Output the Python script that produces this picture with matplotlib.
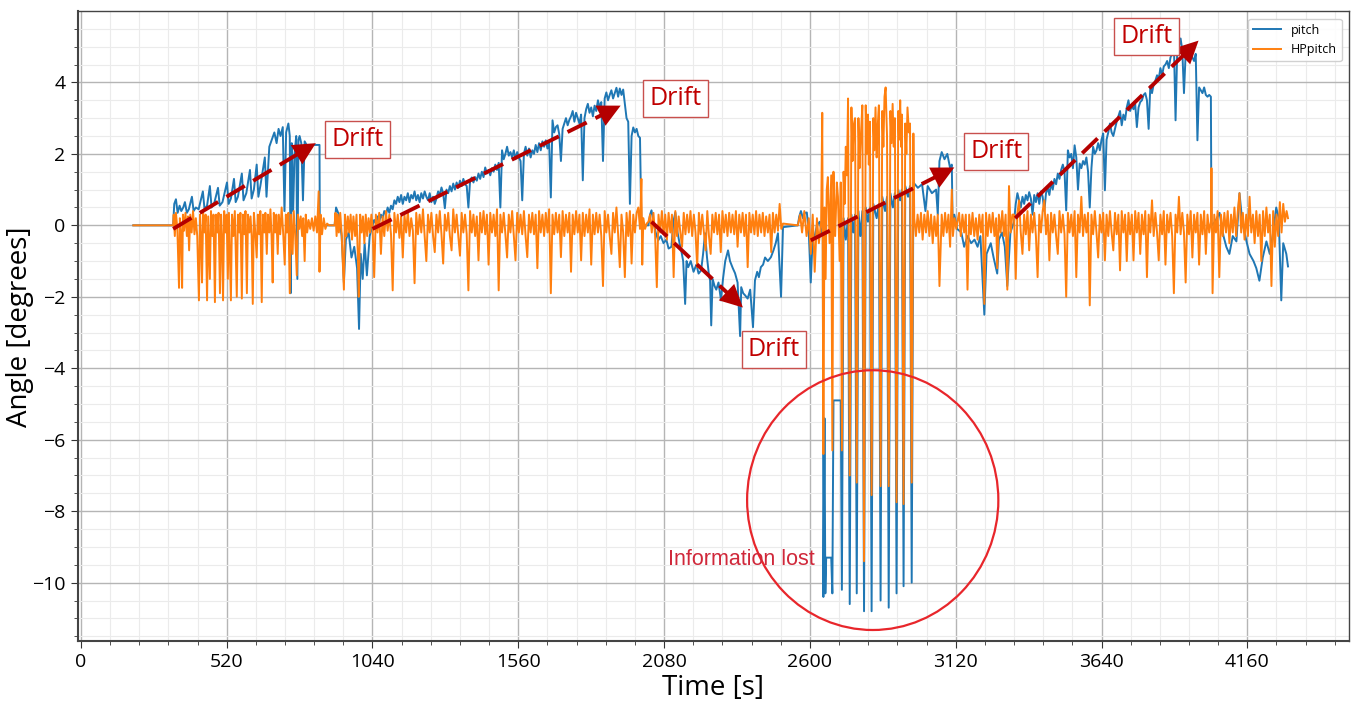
import numpy as np
import matplotlib.pyplot as plt
from matplotlib.patches import Ellipse
from matplotlib.ticker import MultipleLocator

plt.rcParams['font.family'] = ['Open Sans', 'DejaVu Sans']

STEP = 6  # s, sample spacing of the evenly logged stretches

# ---- pitch (raw attitude), samples as (time [s], angle [deg]) ----
pitch_idle = [(187, 0.0), (329, 0.0)]
pitch_drift1 = [(333, 0.6), (339, 0.73), (345, 0.35), (352, 0.55), (358, 0.4), (365, 0.5), (371, 0.65),
                (378, 0.35), (385, 0.45), (396, 0.8), (402, 0.4), (410, 0.5), (420, 0.45), (435, 0.95),
                (441, 0.45), (450, 0.55), (460, 1.1), (466, 0.5), (475, 0.6), (489, 1.05), (495, 0.55),
                (505, 0.65), (521, 1.2), (527, 0.6), (535, 0.75), (546, 1.3), (552, 0.65), (560, 0.8),
                (574, 1.45), (580, 0.7), (590, 0.9), (603, 1.55), (609, 0.75), (617, 1.0), (627, 1.7),
                (633, 0.8), (640, 1.1), (656, 1.9), (662, 0.8), (672, 2.2), (681, 2.4), (690, 2.6),
                (698, 2.3), (705, 2.7), (712, 2.5), (720, 2.75), (726, 0.4), (732, 2.6), (740, 2.85),
                (745, 2.5), (748, -1.9), (752, 2.3), (757, 0.4), (762, 2.0), (768, 2.5), (772, -1.5),
                (776, 2.4), (780, 2.5), (786, 2.3), (792, 0.7), (798, 2.35), (805, 2.25), (851, 2.25),
                (852, 0.0), (905, 0.0)]
pitch_gap = [(910, 0.5), (920, 0.3), (930, -0.3), (938, -1.6), (945, -0.4), (955, -0.2), (965, -0.9),
             (975, -0.6), (985, -1.2), (992, -2.9), (998, -0.8), (1005, -1.5), (1012, -0.5),
             (1020, -1.4), (1030, -0.3)]
PITCH_DRIFT2_T0 = 1040
pitch_drift2 = [0.0, 0.15, 0.05, 0.25, 0.1, 0.3, 0.2, 0.4, 0.3, 0.5,
                0.35, 0.55, 0.45, 0.7, 0.6, 0.8, 0.65, 0.85, 0.6, 0.8,
                0.7, 0.9, 0.65, 0.85, 0.75, 0.95, 0.7, 0.85, 0.65, 0.9,
                0.75, 0.95, 0.8, 0.7, 0.9, 0.65, 0.8, 0.6, 0.75, 0.95,
                0.85, 1.06, 0.9, 0.48, 1.0, 0.9, 1.1, 0.95, 1.17, 1.0,
                1.2, 1.05, 1.25, 1.1, 1.3, 1.15, 1.1, 0.5, 1.25, 1.34,
                1.2, 1.35, 1.25, 1.45, 1.3, 1.5, 1.35, 1.62, 1.45, 1.55,
                1.4, 1.6, 1.5, 1.7, 1.55, 1.75, 0.5, 2.1, 1.85, 2.0,
                2.2, 1.95, 2.05, 1.9, 2.1, 1.85, 2.05, 1.9, 1.8, 0.7,
                2.0, 2.2, 1.95, 2.15, 1.9, 2.1, 2.0, 2.25, 2.05, 2.3,
                2.1, 2.35, 2.2, 2.38, 2.15, 2.3, 0.78, 2.94, 2.6, 2.75,
                2.8, 2.55, 1.8, 2.7, 2.85, 3.0, 2.8, 2.95, 3.05, 3.2,
                2.9, 3.15, 3.0, 2.85, 3.1, 1.26, 3.0, 3.25, 3.4, 3.15,
                3.3, 3.05, 3.35, 3.2, 3.5, 3.3, 3.45, 1.8, 3.55, 3.72,
                3.5, 3.65, 3.78, 3.55, 3.7, 3.85, 3.6, 3.83, 3.65, 3.8,
                3.4, 3.0, 2.9, 0.6, 2.5, 2.74, 2.6, 2.7, 2.5, 2.45]
pitch_drop2 = [(1999, 0.0), (2024, 0.0)]
pitch_drift3 = [(2030, 0.3), (2035, 0.42), (2042, 0.1), (2050, -0.2), (2059, -0.42), (2068, -0.3),
                (2078, -0.5), (2088, -0.4), (2096, -0.65), (2106, -0.6), (2113, 0.1), (2120, 0.36),
                (2128, -0.2), (2135, -0.5), (2141, -0.7), (2148, -1.0), (2155, -2.2), (2160, -1.0),
                (2166, -1.17), (2175, -1.0), (2185, -1.3), (2195, -1.1), (2203, -1.35), (2212, -1.26),
                (2219, -0.8), (2226, -0.22), (2233, -0.9), (2240, -1.4), (2244, -1.54), (2248, -2.8),
                (2253, -1.5), (2260, -1.7), (2266, -1.8), (2274, -1.6), (2283, -2.1), (2290, -1.5),
                (2298, -1.0), (2308, -0.7), (2315, -1.0), (2325, -1.2), (2333, -1.34), (2342, -1.6),
                (2351, -3.1), (2355, -1.73), (2362, -1.9), (2369, -1.96), (2378, -2.05), (2387, -1.8),
                (2397, -2.85), (2404, -1.54), (2412, -1.3), (2418, -1.45), (2425, -1.17), (2433, -1.1),
                (2440, -0.9), (2450, -1.0), (2461, -0.89), (2470, -0.7), (2478, -0.5), (2486, -0.22),
                (2497, -2.0), (2504, -0.05), (2557, 0.0), (2562, 0.25), (2568, 0.4), (2575, 0.2),
                (2582, 0.35), (2589, 0.36), (2596, -0.2), (2603, -1.6), (2610, -0.3), (2617, -0.3),
                (2625, 0.0), (2635, 0.1), (2642, -0.2)]
pitch_lost = [(2646, -0.2), (2648, -10.4), (2652, -5.4), (2655, -10.3), (2658, -9.3), (2676, -9.3),
              (2680, -10.3), (2684, -4.9), (2710, -4.9), (2714, -10.2), (2720, 0.2), (2728, -0.4),
              (2736, 0.2), (2742, -10.6), (2748, 0.3), (2755, -0.2), (2761, 0.3), (2767, -10.3),
              (2773, 0.4), (2780, -0.3), (2787, 0.4), (2793, -10.8), (2799, 0.5), (2807, 0.1),
              (2814, 0.5), (2820, -10.8), (2826, 0.6), (2838, 0.2), (2846, 0.6), (2852, -10.5),
              (2858, 0.8), (2868, 0.4), (2875, 0.8), (2881, -10.7), (2887, 0.9), (2896, 0.5),
              (2903, 0.9), (2909, -10.3), (2915, 1.0), (2922, 0.7), (2928, 1.0), (2934, -10.1),
              (2940, 1.1), (2950, 0.8), (2957, 1.1), (2963, -10.0), (2969, 1.2), (2985, 1.05),
              (3000, 1.15), (3012, 0.4), (3020, 1.1), (3035, 0.9), (3050, 1.0), (3056, 0.3),
              (3062, 1.8), (3070, 2.05), (3080, 1.85), (3090, 2.0), (3100, 1.6), (3106, 1.7),
              (3109, 0.0)]
pitch_settle = [(3115, 0.3), (3125, -0.1), (3140, -0.2), (3150, -0.6), (3162, -0.3), (3175, -0.5),
                (3187, -0.4), (3198, -0.6), (3208, -0.3), (3222, -2.5), (3230, -0.8), (3245, -0.5),
                (3255, -0.9), (3268, -1.35), (3274, -0.4), (3285, -0.2), (3295, -0.6), (3304, -1.7),
                (3315, -0.2)]
PITCH_DRIFT4_T0 = 3328
pitch_drift4 = [0.1, 0.6, 0.9, 0.7, 0.5, 0.8, 0.6, 0.85, 0.7, 0.93,
                0.75, 0.3, 0.85, 0.65, 0.9, 0.6, 0.95, 0.8, 0.4, 0.9,
                1.06, 0.85, 1.2, 1.0, 1.3, 1.15, 1.45, 1.3, 1.55, 1.7,
                1.5, 0.42, 2.1, 1.9, 2.0, 1.6, 2.24, 1.9, 1.0, 1.73,
                1.6, 1.8, 1.7, 1.9, 1.5, 0.5, 1.6, 2.2, 2.0, 2.1,
                2.3, 2.1, 2.4, 2.57, 0.98, 2.4, 2.6, 2.85, 2.6, 2.5,
                2.7, 2.9, 3.05, 3.2, 2.8, 3.1, 2.95, 3.3, 3.5, 3.2,
                3.35, 3.25, 3.4, 2.75, 3.3, 3.45, 3.5, 3.65, 3.7, 3.5,
                2.7, 3.9, 3.7, 3.95, 4.05, 4.2, 4.1, 4.4, 4.2, 4.45,
                4.5, 4.6, 4.4, 4.7, 4.8, 5.1, 2.94, 4.9, 5.0, 5.23,
                4.9, 3.7, 4.8, 5.0, 4.7, 4.9, 4.7, 4.6, 4.8, 2.38,
                3.86, 3.78, 3.7, 3.86, 3.65, 3.6, 3.65, 3.6]
pitch_tail = [(4032, 0.0), (4045, 0.1), (4061, 0.35), (4075, -0.3), (4085, -0.6), (4096, -0.8),
              (4108, -0.3), (4121, -0.45), (4132, 0.9), (4142, 0.1), (4157, -0.45), (4168, -0.8),
              (4182, -1.0), (4192, -1.2), (4203, -1.55), (4215, -0.9), (4228, -0.45), (4240, -0.8),
              (4252, -0.2), (4263, 0.5), (4272, 0.2), (4281, -2.1), (4288, -0.5), (4299, -0.8),
              (4305, -1.15)]

# ---- HPpitch (high-pass filtered pitch) ----
hp_idle = [(187, 0.0), (329, 0.0)]
hp_drift1 = [(331, 0.3), (335, -0.3), (339, 0.35), (344, -0.1), (350, -1.75), (353, 0.2), (357, -0.2),
             (361, -1.75), (364, 0.3), (368, -0.15), (373, 0.35), (378, -0.3), (382, 0.25), (386, -0.7),
             (390, 0.3), (395, -0.2), (400, 0.4), (405, -0.25), (410, 0.2), (415, -0.3), (421, -2.1),
             (425, 0.3), (428, -0.2), (432, -1.6), (436, 0.35), (441, -0.2), (445, 0.3), (450, -2.1),
             (454, 0.25), (460, -1.5), (464, 0.4), (469, -0.3), (473, 0.3), (478, -2.15), (482, 0.3),
             (487, -0.2), (491, 0.35), (496, -1.9), (500, 0.3), (503, -0.25), (507, -2.1), (511, 0.4),
             (516, -0.2), (520, 0.3), (524, -1.5), (528, 0.35), (535, -2.1), (539, 0.3), (544, -0.3),
             (549, 0.4), (556, -2.0), (560, 0.3), (565, -0.2), (569, 0.35), (574, -2.05), (578, 0.3),
             (583, -0.25), (587, 0.4), (592, -1.9), (596, 0.3), (601, -0.2), (605, 0.25), (609, -0.3),
             (613, -2.2), (617, 0.35), (622, -0.2), (627, -0.9), (631, 0.3), (636, -0.25), (640, 0.4),
             (645, -2.15), (649, 0.3), (654, -0.2), (658, 0.35), (663, -0.8), (667, 0.3), (672, -0.2),
             (676, 0.45), (680, -0.3), (684, -1.6), (688, 0.35), (693, -0.2), (697, 0.3), (702, -0.8),
             (706, 0.3), (711, -0.25), (716, 0.5), (722, -0.3), (727, -1.1), (731, 0.3), (735, -0.2),
             (740, 0.35), (745, -1.9), (749, 0.3), (755, -0.8), (759, 0.4), (764, -0.2), (770, -1.4),
             (774, 0.3), (779, -0.1), (784, 0.25), (789, -0.3), (793, 0.2), (798, -1.0), (802, 0.3),
             (807, -0.2), (812, 0.15), (818, -0.1), (824, 0.2), (830, -0.15), (836, 0.25), (842, -0.2),
             (848, 0.95), (851, -1.3), (855, 0.3), (860, -0.25), (866, 0.2), (872, -0.1), (878, 0.05),
             (885, 0.0), (905, 0.0)]
hp_gap = [(908, 0.35), (912, -0.3), (916, 0.3), (920, -0.2), (925, 0.35), (930, -0.25), (938, -1.8),
          (942, 0.3), (947, -0.3), (952, 0.25), (957, -0.2), (962, 0.3), (967, -0.4), (972, 0.25),
          (978, -0.3), (983, 0.3), (988, -0.9), (991, -2.0), (996, 0.3), (1001, -0.2), (1006, 0.25),
          (1011, -0.5), (1016, 0.3), (1021, -0.3), (1026, 0.2), (1031, -0.2), (1036, 0.3)]
HP_DRIFT2_T0 = 1040
hp_drift2 = [0.0, -1.45, 0.3, -0.2, 0.35, -0.8, 0.25, -0.3, 0.4, -0.15,
             0.3, -0.25, -1.82, 0.35, -0.2, 0.3, -0.35, 0.25, -0.9, 0.3,
             -0.2, 0.4, -0.3, 0.2, -0.15, -1.62, 0.35, -0.25, 0.3, -0.2,
             0.45, -0.3, -1.0, 0.3, -0.2, 0.35, -0.3, -0.75, 0.3, -0.2,
             0.4, -0.25, -1.07, 0.3, -0.15, 0.35, -0.3, -0.7, 0.45, -0.2,
             0.3, -0.3, -0.85, 0.35, -0.2, 0.3, -0.25, -1.82, 0.4, -0.2,
             0.3, -0.3, 0.25, -0.98, 0.35, -0.2, 0.4, -0.25, 0.3, -1.1,
             0.35, -0.2, 0.3, -0.3, 0.45, -1.82, 0.3, -0.2, 0.35, -0.25,
             -0.9, 0.3, -0.2, 0.4, -0.3, -0.98, 0.35, -0.2, 0.3, -0.25,
             0.4, -0.3, -0.89, 0.3, -0.2, 0.35, -0.25, 0.3, -1.2, 0.4,
             -0.2, 0.3, -0.3, 0.35, -0.2, 0.45, -1.9, 0.3, -0.25, 0.35,
             -0.2, 0.3, -0.89, 0.4, -0.3, 0.3, -0.2, 0.35, -1.3, 0.3,
             -0.25, 0.4, -0.2, 0.3, -0.98, 0.35, -0.3, 0.3, -0.2, 0.45,
             -1.1, 0.3, -0.25, 0.35, -0.2, 0.3, -0.3, -1.7, 0.4, -0.2,
             0.3, -0.3, -0.8, 0.35, -0.2, 0.5, -0.25, -1.17, 0.3, -0.2,
             -1.45, 0.35, -0.3, 0.4, -1.07, 0.3, -0.2, 0.35, 0.5, -0.1]
hp_jump = [(1999, 1.3), (2002, -1.1), (2006, 0.2), (2012, -0.1), (2018, 0.05)]
HP_DRIFT3_T0 = 2024
hp_drift3 = [0.1, 0.3, -0.2, 0.35, -0.3, -1.73, 0.3, -0.2, 0.4, -0.25,
             0.3, -0.4, 0.35, -0.2, 0.3, -1.45, 0.4, -0.3, 0.25, -0.2,
             -0.6, 0.35, -0.25, 0.3, -0.2, 0.4, -0.3, 0.3, -0.2, -1.17,
             0.35, -0.25, 0.3, -0.2, -0.7, 0.4, -0.3, -0.8, 0.3, -0.2,
             0.35, -0.25, 0.3, -0.75, 0.4, -0.2, 0.3, -0.3, 0.35, -0.2,
             0.3, -0.25, 0.4, -0.6, 0.3, -0.2, 0.35, -0.3, 0.3, -1.17,
             0.35, -0.2, 0.3, -0.25, 0.4, -0.3, 0.3, -0.2, 0.35, -0.3,
             0.25, -0.2, 0.3, -0.75, 0.35, -0.2, 0.3, -0.15, 0.6, -0.1]
hp_lost = [(2504, 0.05), (2557, 0.0), (2565, 0.3), (2572, -0.2), (2580, 0.4), (2588, -0.3),
           (2596, 0.2), (2603, -0.8), (2610, 0.3), (2617, -1.3), (2625, 0.2), (2632, -0.5),
           (2640, 0.1), (2644, 3.15), (2648, -6.4), (2652, 0.5), (2656, -1.5), (2660, 1.0),
           (2664, 1.35), (2670, -0.5), (2676, 1.4), (2680, -6.3), (2684, 1.5), (2690, -0.3),
           (2696, 1.2), (2700, 0.8), (2706, -1.0), (2710, 1.2), (2714, -6.3), (2720, 1.5),
           (2724, 0.6), (2728, 2.2), (2732, 1.4), (2736, 3.55), (2742, -7.0), (2748, 3.3),
           (2752, 1.8), (2756, 2.8), (2761, 3.0), (2767, -7.2), (2773, 3.0), (2777, 1.6),
           (2781, 2.4), (2787, 3.36), (2793, -9.4), (2799, 3.36), (2803, 2.0), (2807, 3.1),
           (2810, 1.7), (2814, 2.9), (2820, -7.55), (2826, 3.0), (2830, 2.1), (2834, 3.3),
           (2838, 1.9), (2842, 2.8), (2846, 3.36), (2852, -7.3), (2858, 3.2), (2862, 2.2),
           (2866, 3.6), (2870, 3.86), (2875, 2.5), (2881, -7.3), (2887, 3.2), (2891, 2.3),
           (2895, 3.4), (2899, 2.2), (2903, 3.0), (2909, -7.75), (2915, 3.2), (2918, 2.4),
           (2922, 3.5), (2925, 2.2), (2928, 3.1), (2934, -7.8), (2940, 2.85), (2944, 2.0),
           (2948, 3.3), (2953, 2.6), (2957, 2.85), (2963, -7.2), (2969, 2.57), (2972, 0.2),
           (2978, -0.3), (2984, 0.3), (2990, -0.2), (2996, 0.35), (3002, -0.4), (3008, 0.3),
           (3014, -0.2), (3020, 0.4), (3026, -0.3), (3032, 0.3), (3038, -0.5), (3044, 0.25),
           (3050, -0.3), (3056, 0.3), (3062, -1.7), (3070, 0.3), (3076, -0.3), (3082, 0.35),
           (3088, -0.2), (3094, 0.3), (3100, -0.6), (3106, 1.0), (3110, -0.3), (3116, 0.2),
           (3122, -0.1)]
hp_settle = [(3126, 0.1), (3132, 0.35), (3138, -0.3), (3144, 0.3), (3150, -0.2), (3156, 0.3),
             (3162, -1.8), (3168, 0.3), (3174, -0.25), (3180, 0.35), (3186, -0.3), (3192, 0.2),
             (3198, -0.4), (3204, 0.3), (3210, -0.2), (3216, 0.3), (3222, -2.2), (3228, 0.35),
             (3234, -0.3), (3240, 0.3), (3246, -0.2), (3252, 0.35), (3258, -0.3), (3264, 0.2),
             (3268, -1.2), (3274, 0.3), (3280, -0.2), (3286, 0.4), (3292, -0.3), (3298, 0.3),
             (3304, -1.8), (3310, 1.1), (3316, -0.2), (3322, 0.3)]
HP_DRIFT4_T0 = 3328
hp_drift4 = [0.3, -1.5, 0.35, 0.7, -0.2, -0.8, 0.3, -0.25, 0.4, -0.7,
             0.3, -0.2, 0.35, -0.3, -1.45, 0.3, -0.2, 0.4, 0.7, -0.25,
             0.3, -0.98, 0.35, -0.2, 0.3, -0.3, -0.8, 0.4, -0.2, 0.3,
             -0.25, -2.0, 0.35, -0.2, 0.3, -0.3, 0.4, -1.45, 0.3, -0.2,
             0.8, -0.3, 0.3, -0.2, 0.35, -2.24, 0.3, -0.25, 0.4, -0.2,
             -0.9, 0.3, -0.2, 0.35, -0.98, 0.3, -0.3, 0.4, -0.2, -0.7,
             0.35, -0.25, 0.3, -1.26, 0.4, -0.2, 0.3, -1.0, 0.35, -0.25,
             0.3, -0.98, 0.4, -0.2, 0.35, -0.8, 0.3, -0.25, 0.4, -1.45,
             0.3, -0.2, 0.7, -0.3, 0.35, -0.2, -0.98, 0.3, -0.25, 0.4,
             -1.1, 0.3, -0.2, 0.35, -0.3, -1.9, 0.3, -0.2, 0.8, -0.25,
             0.35, -0.2, -1.6, 0.3, -0.25, 0.4, -0.9, 0.3, -0.2, 0.35,
             -1.1, 0.3, -0.25, 0.4, -0.8, 0.3, -0.2, 0.1]
hp_tail = [(4032, 1.6), (4036, -1.9), (4042, 0.3), (4048, -0.2), (4054, 0.4), (4060, -1.45),
           (4066, 0.3), (4072, -0.3), (4078, 0.35), (4084, -0.2), (4090, 0.4), (4096, -0.5),
           (4102, 0.3), (4108, -0.2), (4114, 0.5), (4120, -0.3), (4126, 0.4), (4132, 0.9),
           (4138, -0.2), (4144, 0.35), (4150, -0.4), (4156, 0.3), (4162, -0.3), (4168, 0.8),
           (4174, -0.2), (4180, 0.3), (4186, -0.5), (4192, 0.4), (4198, -0.3), (4204, 0.3),
           (4210, -1.0), (4216, 0.4), (4222, -0.3), (4228, 0.5), (4234, -0.2), (4240, 0.3),
           (4246, -1.7), (4252, 0.4), (4258, -0.6), (4264, 0.3), (4270, -0.3), (4276, 0.65),
           (4282, -0.2), (4288, 0.6), (4294, 0.1), (4300, 0.4), (4305, 0.2)]

# ---- annotations ----
drift_labels = [(986, 2.4), (2120, 3.55), (2472, -3.47), (3264, 2.07), (3801, 5.29)]
drift_arrows = [((329, -0.1), (838, 2.3)),
                ((1040, -0.1), (1925, 3.35)),
                ((2035, 0.1), (2361, -2.3)),
                ((2603, -0.42), (3115, 1.62)),
                ((3332, 0.2), (3986, 5.17))]
lost_center = (2824, -7.69)
lost_size = (896, 7.27)
lost_label = (2354, -9.34)


def pairs(*segments):
    pts = [p for seg in segments for p in seg]
    return np.array([p[0] for p in pts], float), np.array([p[1] for p in pts], float)


def regular(t0, values):
    return list(zip(t0 + STEP * np.arange(len(values)), values))


pitch_t, pitch_v = pairs(pitch_idle, pitch_drift1, pitch_gap,
                         regular(PITCH_DRIFT2_T0, pitch_drift2), pitch_drop2, pitch_drift3,
                         pitch_lost, pitch_settle, regular(PITCH_DRIFT4_T0, pitch_drift4),
                         pitch_tail)
hp_t, hp_v = pairs(hp_idle, hp_drift1, hp_gap, regular(HP_DRIFT2_T0, hp_drift2), hp_jump,
                   regular(HP_DRIFT3_T0, hp_drift3), hp_lost, hp_settle,
                   regular(HP_DRIFT4_T0, hp_drift4), hp_tail)

fig, ax = plt.subplots(figsize=(13.6, 7.07), dpi=100)
fig.subplots_adjust(left=0.057, right=0.992, bottom=0.093, top=0.984)

ax.plot(pitch_t, pitch_v, color='#1f77b4', lw=1.4, label='pitch')
ax.plot(hp_t, hp_v, color='#ff7f0e', lw=1.4, label='HPpitch')

ax.set_xlim(-12, 4523)
ax.set_ylim(-11.64, 5.99)
ax.xaxis.set_major_locator(MultipleLocator(520))
ax.xaxis.set_minor_locator(MultipleLocator(104))
ax.yaxis.set_major_locator(MultipleLocator(2))
ax.yaxis.set_minor_locator(MultipleLocator(0.5))
ax.set_axisbelow(True)
ax.grid(which='major', color='#b5b5b5', lw=1.0)
ax.grid(which='minor', color='#ebebeb', lw=0.8)
ax.tick_params(which='major', length=5, labelsize=14, color='#333333')
ax.tick_params(which='minor', length=3, color='#333333')
for side, sp in ax.spines.items():
    sp.set_color('#444444')
    sp.set_linewidth(1.5 if side in ('left', 'bottom') else 1.0)

ax.set_xlabel('Time [s]', fontsize=20, labelpad=2)
ax.set_ylabel('Angle [degrees]', fontsize=20)
ax.yaxis.set_label_coords(-0.034, 0.5)

# dashed drift arrows: dashed shaft plus a solid head
for (x0, y0), (x1, y1) in drift_arrows:
    xe, ye = x0 + 0.95 * (x1 - x0), y0 + 0.95 * (y1 - y0)
    ax.plot([x0, xe], [y0, ye], color='#b40000', lw=2.8, dashes=(5.5, 2.5),
            solid_capstyle='butt', zorder=4)
    xs, ys = x0 + 0.9 * (x1 - x0), y0 + 0.9 * (y1 - y0)
    ax.annotate('', xy=(x1, y1), xytext=(xs, ys),
                arrowprops=dict(arrowstyle='-|>,head_length=0.9,head_width=0.45',
                                color='#b40000', lw=0, shrinkA=0, shrinkB=0,
                                mutation_scale=18), zorder=5)

for x, y in drift_labels:
    ax.text(x, y, 'Drift', color='#c00000', fontsize=18, ha='center', va='center', zorder=6,
            bbox=dict(boxstyle='square,pad=0.25', fc='white', ec='#c8504d', lw=1.0))

ax.add_patch(Ellipse(lost_center, lost_size[0], lost_size[1], fill=False,
                     ec='#e8262b', lw=1.6, zorder=5))
ax.text(*lost_label, 'Information lost', color='#d0283a', fontsize=15.5,
        family=['Liberation Sans', 'DejaVu Sans'], ha='center', va='center', zorder=6)

ax.legend(loc='upper right', fontsize=9, framealpha=0.9, edgecolor='#cccccc',
          handlelength=2.2, borderaxespad=0.6)

fig.savefig('out.png', dpi=100)
